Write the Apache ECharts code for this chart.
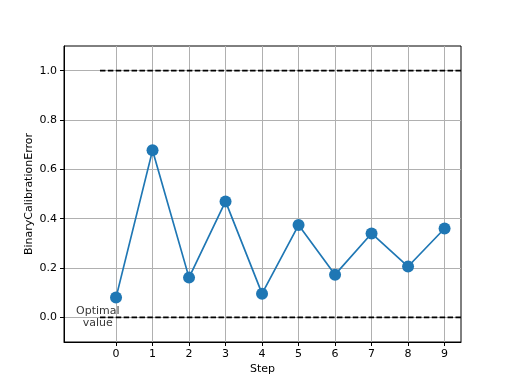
<!DOCTYPE html>
<html><head><meta charset="utf-8">
<script src="https://cdn.jsdelivr.net/npm/echarts@6/dist/echarts.min.js"></script>
<style>html,body{margin:0;padding:0;background:#fff}#c{width:512px;height:384px}</style>
</head><body><div id="c"></div>
<script>
const steps = [0,1,2,3,4,5,6,7,8,9];
const values = [0.080,0.677,0.161,0.470,0.096,0.374,0.173,0.340,0.206,0.360];
const xTicks = [0,1,2,3,4,5,6,7,8,9];
const yTicks = [0.0,0.2,0.4,0.6,0.8,1.0];
const optimalValue = 0.0;
const worstValue = 1.0;
const refLineStart = -0.44;
const refLineEnd = 9.45;
const optimalLabelX = -0.5;
const optimalLabelText = 'Optimal\nvalue';

const font = 'DejaVu Sans';
const chart = echarts.init(document.getElementById('c'));
chart.setOption({
  animation:false,
  backgroundColor:'#fff',
  grid:{left:64,right:51,top:46,bottom:42,show:true,borderColor:'#000',borderWidth:1,backgroundColor:'transparent'},
  xAxis:{type:'value',min:-1.425,max:9.45,name:'Step',nameLocation:'middle',nameGap:22,nameMoveOverlap:false,
    nameTextStyle:{fontFamily:font,fontSize:11,color:'#000'},
    axisLine:{show:true,onZero:false,lineStyle:{color:'#000',width:1}},
    axisTick:{show:true,length:4,customValues:xTicks,lineStyle:{color:'#000',width:1}},
    axisLabel:{customValues:xTicks,fontFamily:font,fontSize:11,color:'#000',margin:7},
    splitLine:{show:true,lineStyle:{color:'#b0b0b0',width:1}}},
  yAxis:{type:'value',min:-0.1,max:1.1,name:'BinaryCalibrationError',nameLocation:'middle',nameGap:29,nameMoveOverlap:false,
    nameTextStyle:{fontFamily:font,fontSize:11,color:'#000'},
    axisLine:{show:true,onZero:false,lineStyle:{color:'#000',width:1}},
    axisTick:{show:true,length:4,customValues:yTicks,lineStyle:{color:'#000',width:1}},
    axisLabel:{customValues:yTicks,fontFamily:font,fontSize:11,color:'#000',margin:7,formatter:v=>v.toFixed(1)},
    splitLine:{show:true,lineStyle:{color:'#b0b0b0',width:1}}},
  series:[
    {type:'line',data:[[refLineStart,worstValue],[refLineEnd,worstValue]],symbol:'none',z:3,
      lineStyle:{color:'#000',width:1.6,type:[5.5,2.4]}},
    {type:'line',data:[[refLineStart,optimalValue],[refLineEnd,optimalValue]],symbol:'none',z:3,
      lineStyle:{color:'#000',width:1.6,type:[5.5,2.4]}},
    {type:'scatter',data:[[optimalLabelX,optimalValue]],symbolSize:0,z:4,
      label:{show:true,position:'inside',formatter:optimalLabelText,fontFamily:font,fontSize:11,color:'#000',align:'center',verticalAlign:'middle',lineHeight:12}},
    {type:'line',data:steps.map((s,i)=>[s,values[i]]),symbol:'circle',symbolSize:12,z:5,
      itemStyle:{color:'#1f77b4'},lineStyle:{color:'#1f77b4',width:1.7}}
  ]
});
</script></body></html>
